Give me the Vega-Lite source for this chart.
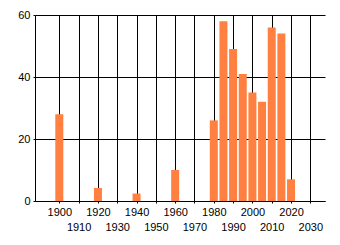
{
  "$schema": "https://vega.github.io/schema/vega-lite/v6.json",
  "width": 290,
  "height": 186,
  "autosize": "none",
  "padding": {"left": 35, "top": 15, "right": 15, "bottom": 44},
  "background": "white",
  "config": {"view": {"stroke": null}},
  "data": {"values": [
    {"year": 1900, "count": 28},
    {"year": 1920, "count": 4.2},
    {"year": 1940, "count": 2.4},
    {"year": 1960, "count": 10},
    {"year": 1980, "count": 26},
    {"year": 1985, "count": 58},
    {"year": 1990, "count": 49},
    {"year": 1995, "count": 41},
    {"year": 2000, "count": 35},
    {"year": 2005, "count": 32},
    {"year": 2010, "count": 56},
    {"year": 2015, "count": 54},
    {"year": 2020, "count": 7}
  ]},
  "mark": {"type": "bar", "width": 8, "color": "#FF8040"},
  "encoding": {
    "x": {
      "field": "year", "type": "quantitative",
      "scale": {"domain": [1890, 2035], "nice": false, "zero": false},
      "axis": {
        "title": null,
        "values": [1900, 1910, 1920, 1930, 1940, 1950, 1960, 1970, 1980, 1990, 2000, 2010, 2020, 2030],
        "format": "d",
        "labelExpr": "datum.value % 20 == 10 ? ['', datum.label] : datum.label",
        "labelLineHeight": 15.5,
        "labelFont": "Liberation Sans",
        "labelFontSize": 11,
        "labelColor": "#000000",
        "labelPadding": 3,
        "labelOverlap": false,
        "labelFlush": false,
        "labelBound": false,
        "grid": true,
        "gridColor": "#000000",
        "gridOpacity": 1,
        "gridWidth": 1,
        "domainColor": "#000000",
        "domainWidth": 1,
        "tickColor": "#000000",
        "tickSize": 2,
        "tickWidth": 1
      }
    },
    "y": {
      "field": "count", "type": "quantitative",
      "scale": {"domain": [0, 60], "nice": false},
      "axis": {
        "title": null,
        "values": [0, 20, 40, 60],
        "labelFont": "Liberation Sans",
        "labelFontSize": 11,
        "labelColor": "#000000",
        "labelPadding": 3,
        "labelOverlap": false,
        "labelFlush": false,
        "labelBound": false,
        "grid": true,
        "gridColor": "#000000",
        "gridOpacity": 1,
        "gridWidth": 1,
        "domainColor": "#000000",
        "domainWidth": 1,
        "tickColor": "#000000",
        "tickSize": 2,
        "tickWidth": 1
      }
    }
  }
}
